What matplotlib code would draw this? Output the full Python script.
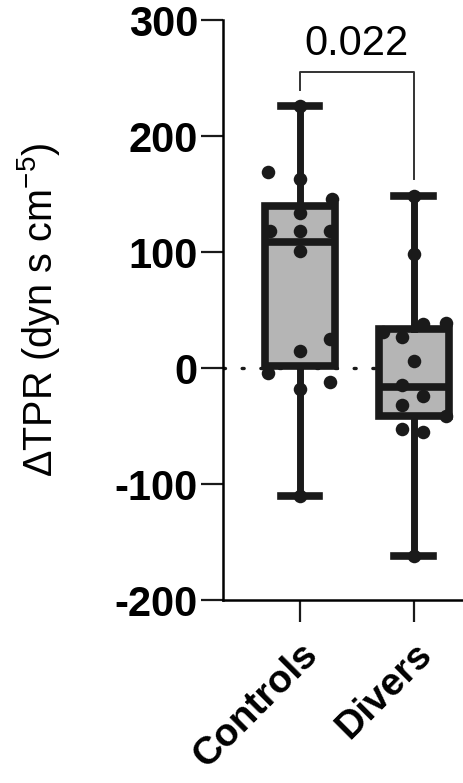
import matplotlib
matplotlib.use('Agg')
import matplotlib.pyplot as plt

plt.rcParams['font.family'] = ['Liberation Sans', 'DejaVu Sans']
plt.rcParams['mathtext.fontset'] = 'custom'
plt.rcParams['mathtext.rm'] = 'Liberation Sans'
plt.rcParams['mathtext.it'] = 'Liberation Sans:italic'
plt.rcParams['axes.unicode_minus'] = False

groups = ['Controls', 'Divers']

# box stats (min, q1, median, q3, max)
controls_stats = [-110, 2, 109, 140, 226]
divers_stats = [-162, -41, -16, 34, 148]

# individual points and their horizontal spread inside each box
controls_vals = [226, 169, 163, 146, 134, 118, 118, 118, 101, 25, 15, -4, -12, -18, -110]
controls_jit = [0, -0.28, 0, 0.28, 0, -0.26, 0, 0.26, 0, 0.26, 0, -0.28, 0.26, 0, 0]
divers_vals = [148, 98, 39, 38, 31, 27, 6, -15, -24, -32, -41, -53, -55, -162]
divers_jit = [0, 0, 0.28, 0.08, -0.27, -0.1, 0, -0.1, 0.08, -0.1, 0.28, -0.1, 0.08, 0]

p_value = '0.022'

dark = '#1a1a1a'
fig = plt.figure(figsize=(4.64, 7.83), dpi=100)
ax = fig.add_axes([223/464, 183/783, 1 - 223/464, 580/783])

stats = []
for name, s in zip(groups, [controls_stats, divers_stats]):
    stats.append(dict(label=name, whislo=s[0], q1=s[1], med=s[2], q3=s[3], whishi=s[4], fliers=[]))

ax.axhline(0, color=dark, lw=2.4, linestyle=(0, (0.6, 5.0)), dash_capstyle='round', zorder=0)

ax.bxp(stats, positions=[1, 2], widths=0.62, capwidths=0.34, patch_artist=True,
       boxprops=dict(facecolor='#b5b5b5', edgecolor=dark, linewidth=5.5),
       medianprops=dict(color=dark, linewidth=5.5),
       whiskerprops=dict(color=dark, linewidth=5),
       capprops=dict(color=dark, linewidth=5.5), zorder=2)

ax.scatter([1 + j for j in controls_jit], controls_vals, s=95, color=dark, zorder=3, linewidths=0)
ax.scatter([2 + j for j in divers_jit], divers_vals, s=95, color=dark, zorder=3, linewidths=0)

# significance bracket
ax.plot([1, 1, 2, 2], [240, 255, 255, 163], color='#333333', lw=1.4, zorder=1)
ax.text(1.5, 270, p_value, ha='center', va='baseline', fontsize=30)

ax.set_xlim(0.325, 2.44)
ax.set_ylim(-200, 300)
ax.set_yticks([-200, -100, 0, 100, 200, 300])
ax.set_xticks([1, 2])
ax.set_xticklabels(groups, rotation=45, ha='right', rotation_mode='anchor',
                   fontsize=28, fontweight='bold')
for lab in ax.get_yticklabels():
    lab.set_fontweight('bold')
ax.tick_params(axis='y', labelsize=30, length=16, width=1.6, color=dark, pad=2)
ax.tick_params(axis='x', length=16, width=1.6, color=dark, pad=10)
ax.spines['top'].set_visible(False)
ax.spines['right'].set_visible(False)
ax.spines['left'].set_linewidth(1.8)
ax.spines['bottom'].set_linewidth(1.8)

ax.set_ylabel(r'ΔTPR (dyn s cm$^{-5}$)', fontsize=28.5)
ax.yaxis.set_label_coords(-0.67, 0.5)

fig.savefig('out.png', dpi=100)
